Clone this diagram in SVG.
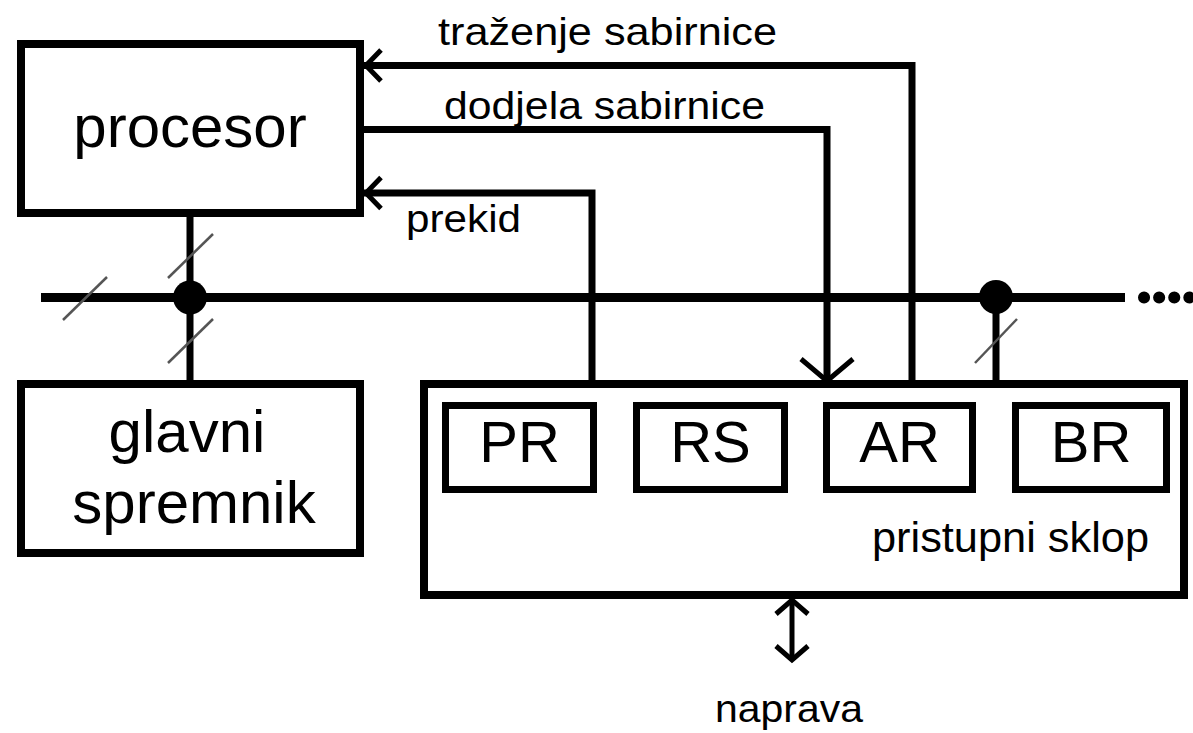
<svg xmlns="http://www.w3.org/2000/svg" width="1193" height="733" viewBox="0 0 1193 733">
<style>
.box{fill:#fff;stroke:#000;stroke-width:8}
.reg{fill:#fff;stroke:#000;stroke-width:7}
.ln{fill:none;stroke:#000;stroke-width:7;stroke-linejoin:miter}
.ah{fill:none;stroke:#000;stroke-width:5;stroke-linejoin:miter}
.sl{stroke:#555;stroke-width:2.5}
.big{font-family:"Liberation Sans",Arial,sans-serif;font-size:60px;fill:#000}
.lbl{font-family:"Liberation Sans",Arial,sans-serif;font-size:39px;fill:#000}
</style>
<rect width="1193" height="733" fill="#fff"/>
<g id="connectors">
<path class="ln" d="M190 217 V380"/>
<path class="ln" d="M41 297.5 H1125" style="stroke-width:9"/>
<path d="M1144 297.5 H1195" fill="none" stroke="#000" stroke-width="12" stroke-linecap="round" stroke-dasharray="0.1 15"/>
<path class="ln" d="M364 65.5 H912 V380"/>
<path class="ln" d="M364 129.5 H827 V380"/>
<path class="ln" d="M364 193 H592 V380"/>
<path class="ln" d="M996 297 V380"/>
<path class="ah" d="M381 50 L366 65.5 L381 81"/>
<path class="ah" d="M381 177.5 L366 193 L381 208.5"/>
<path class="ah" d="M801 359 L827 381 L853 359"/>
<path class="ln" d="M792 600 V660" style="stroke-width:5"/>
<path class="ah" d="M776 614 L792 600 L808 614"/>
<path class="ah" d="M776 646 L792 660 L808 646"/>
<circle cx="190" cy="297.5" r="17" fill="#000"/>
<circle cx="996" cy="297" r="17" fill="#000"/>
<line class="sl" x1="63" y1="320" x2="107" y2="277"/>
<line class="sl" x1="168" y1="278" x2="213" y2="234"/>
<line class="sl" x1="168" y1="363" x2="213" y2="319"/>
<line class="sl" x1="975" y1="363" x2="1017" y2="319"/>
<text class="lbl" x="438" y="45" textLength="339" lengthAdjust="spacingAndGlyphs">traženje sabirnice</text>
<text class="lbl" x="444" y="119" textLength="321" lengthAdjust="spacingAndGlyphs">dodjela sabirnice</text>
<text class="lbl" x="406" y="232" textLength="115" lengthAdjust="spacingAndGlyphs">prekid</text>
<text class="lbl" x="715" y="722" textLength="148" lengthAdjust="spacingAndGlyphs">naprava</text>
</g>
<g id="procesor">
<rect class="box" x="21" y="44" width="339" height="169"/>
<text class="big" x="190" y="147" text-anchor="middle">procesor</text>
</g>
<g id="glavni-spremnik">
<rect class="box" x="21" y="384" width="339" height="169"/>
<text class="big" x="187" y="452" text-anchor="middle">glavni</text>
<text class="big" x="194" y="523" text-anchor="middle">spremnik</text>
</g>
<g id="pristupni-sklop">
<rect class="box" x="424" y="384" width="760" height="211"/>
<text class="lbl" x="872" y="552" textLength="277" lengthAdjust="spacingAndGlyphs" style="font-size:43px">pristupni sklop</text>
</g>
<g id="PR">
<rect class="reg" x="445.5" y="405.5" width="148" height="84"/>
<text class="big" x="519.5" y="462" text-anchor="middle" style="font-size:58px">PR</text>
</g>
<g id="RS">
<rect class="reg" x="636.5" y="405.5" width="148" height="84"/>
<text class="big" x="710.5" y="462" text-anchor="middle" style="font-size:58px">RS</text>
</g>
<g id="AR">
<rect class="reg" x="826.5" y="405.5" width="146" height="84"/>
<text class="big" x="899.5" y="462" text-anchor="middle" style="font-size:58px">AR</text>
</g>
<g id="BR">
<rect class="reg" x="1015.5" y="405.5" width="151" height="84"/>
<text class="big" x="1091" y="462" text-anchor="middle" style="font-size:58px">BR</text>
</g>
</svg>
